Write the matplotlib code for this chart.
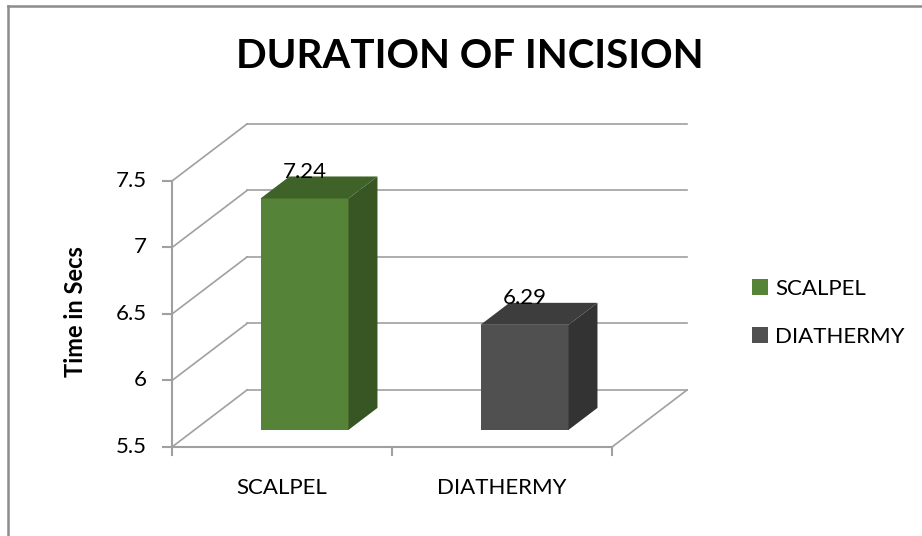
import matplotlib
matplotlib.use("Agg")
import matplotlib.pyplot as plt
from matplotlib.patches import Polygon, Patch
from matplotlib.lines import Line2D

plt.rcParams['font.family'] = ['Lato', 'DejaVu Sans']

# data
categories = ['SCALPEL', 'DIATHERMY']
values = [7.24, 6.29]
y_ticks = [5.5, 6, 6.5, 7, 7.5]
y_min, y_max = 5.5, 7.5

front_cols = ['#558337', '#505050']
side_cols = ['#375623', '#333333']
top_cols = ['#3f6229', '#3d3d3d']
grid_col = '#a0a0a0'

# oblique projection (depth offset of the back wall, in data units)
ox, oy = 0.341, 0.4286
d0, d1 = 0.30, 0.686   # bar front / back depth
bw = 0.40              # bar width (category units)

fig = plt.figure(figsize=(9.22, 5.36), dpi=100)
ax = fig.add_axes([0, 0, 1, 1])
# axes span full figure, 220 px per category, 133 px per value unit
ax.set_xlim(-172 / 220, (922 - 172) / 220)
ax.set_ylim(5.5 - (536 - 447) / 133, 5.5 + 447 / 133)
ax.axis('off')

# back wall gridlines and left wall diagonals
for v in y_ticks:
    ax.plot([ox, 2 + ox], [v + oy, v + oy], color=grid_col, lw=1.2, zorder=1)
    ax.plot([0, ox], [v, v + oy], color=grid_col, lw=1.2, zorder=1)

# floor
ax.plot([0, 2], [y_min, y_min], color=grid_col, lw=1.5, zorder=1)
ax.plot([2, 2 + ox], [y_min, y_min + oy], color=grid_col, lw=1.2, zorder=1)

# vertical axis + ticks
ax.plot([0, 0], [y_min, y_max], color=grid_col, lw=1.5, zorder=1)
for v in y_ticks:
    ax.plot([-0.042, 0], [v, v], color=grid_col, lw=1.5, zorder=1)
    ax.text(-0.115, v, f'{v:g}', ha='right', va='center', fontsize=16)
for i in range(3):
    ax.plot([i, i], [y_min, y_min - 0.06], color=grid_col, lw=1.5, zorder=1)

# bars
xs = [i + 0.5 + d0 * ox for i in range(len(categories))]
bars = ax.bar(xs, [v - y_min for v in values], bottom=y_min + d0 * oy,
              width=bw, color=front_cols, zorder=3)
dd = d1 - d0
for i, v in enumerate(values):
    xl = xs[i] - bw / 2
    xr = xs[i] + bw / 2
    yb = y_min + d0 * oy
    yt = v + d0 * oy
    side = [(xr, yb), (xr + dd * ox, yb + dd * oy), (xr + dd * ox, yt + dd * oy), (xr, yt)]
    top = [(xl, yt), (xr, yt), (xr + dd * ox, yt + dd * oy), (xl + dd * ox, yt + dd * oy)]
    ax.add_patch(Polygon(side, closed=True, facecolor=side_cols[i], edgecolor='none', zorder=3))
    ax.add_patch(Polygon(top, closed=True, facecolor=top_cols[i], edgecolor='none', zorder=3))
    ax.text(xs[i], yt + 0.2, f'{v:.2f}', ha='center', va='center', fontsize=16, zorder=5)

# category labels
for i, c in enumerate(categories):
    ax.text(i + 0.5, 5.19, c, ha='center', va='center', fontsize=16)

# title and axis label
fig.text(470 / 922, 1 - 57 / 536, 'DURATION OF INCISION', ha='center', va='center',
         fontsize=29, fontweight='bold')
fig.text(75 / 922, 1 - 312 / 536, 'Time in Secs', ha='center', va='center',
         rotation=90, fontsize=17, fontweight='bold')

# legend
handles = [Patch(facecolor=front_cols[i], label=categories[i]) for i in range(2)]
fig.legend(handles=handles, loc='upper left', bbox_to_anchor=(752 / 922, 1 - 279 / 536),
           frameon=False, fontsize=16, handlelength=0.7, handleheight=0.7,
           handletextpad=0.35, labelspacing=1.25, borderaxespad=0, borderpad=0)

# outer chart border (top and left visible)
fig.add_artist(Line2D([8 / 922, 8 / 922], [0, 1 - 6 / 536], color='#8c8c8c', lw=1.8))
fig.add_artist(Line2D([8 / 922, 1], [1 - 6 / 536, 1 - 6 / 536], color='#8c8c8c', lw=1.8))

fig.savefig('out.png', dpi=100)
